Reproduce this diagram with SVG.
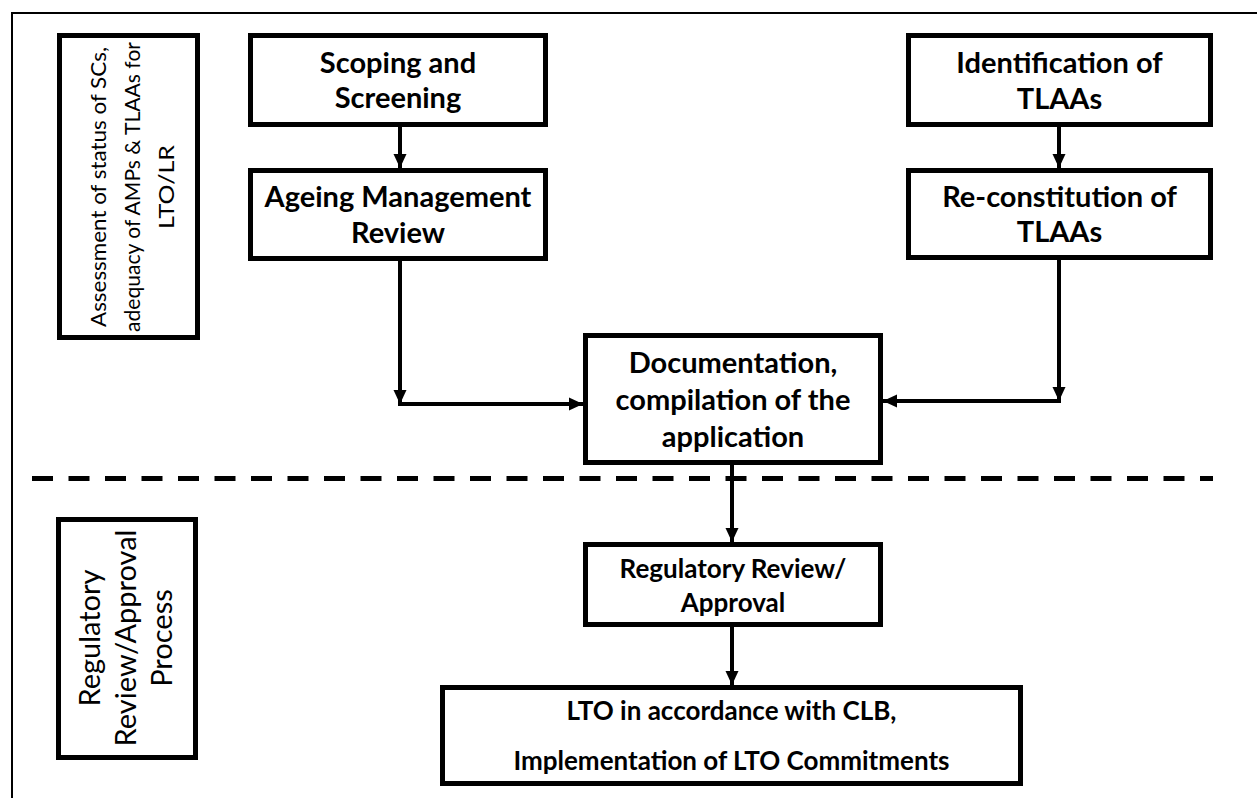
<svg xmlns="http://www.w3.org/2000/svg" width="1257" height="798" viewBox="0 0 1257 798">
<style>
.box{fill:#fff;stroke:#000;stroke-width:5}
.lbl{fill:none;stroke:#000;stroke-width:5}
.t{font-family:Lato,"Liberation Sans",sans-serif;font-weight:bold;font-size:29px;fill:#000;text-anchor:middle}
.s{font-size:26px}
.v{font-family:Lato,"Liberation Sans",sans-serif;font-size:22px;fill:#000;text-anchor:middle}
.v2{font-size:29px}
.con{fill:none;stroke:#000;stroke-width:4}
</style>
<defs>
<marker id="ah" markerUnits="userSpaceOnUse" markerWidth="15" markerHeight="14" refX="14" refY="7" orient="auto" viewBox="0 0 15 14">
<path d="M0,0.5 L14,7 L0,13.5 z" fill="#000"/>
</marker>
</defs>
<rect width="1257" height="798" fill="#fff"/>
<g id="frame">
<line x1="11" y1="13" x2="1257" y2="13" stroke="#000" stroke-width="2"/>
<line x1="12" y1="12" x2="12" y2="798" stroke="#000" stroke-width="2"/>
</g>
<g id="divider">
<line x1="32" y1="478.5" x2="1213" y2="478.5" stroke="#000" stroke-width="5" stroke-dasharray="21 15.5"/>
</g>
<g id="phase1">
<rect class="lbl" x="59.5" y="35.5" width="138" height="302"/>
<g transform="translate(0,187) rotate(-90)">
<text class="v" x="0" y="106" textLength="280" lengthAdjust="spacingAndGlyphs">Assessment of status of SCs,</text>
<text class="v" x="0" y="140" textLength="290" lengthAdjust="spacingAndGlyphs">adequacy of AMPs &amp; TLAAs for</text>
<text class="v" x="0" y="174" textLength="84" lengthAdjust="spacingAndGlyphs">LTO/LR</text>
</g>
</g>
<g id="phase2">
<rect class="lbl" x="58.5" y="519.5" width="137" height="238"/>
<g transform="translate(0,638) rotate(-90)">
<text class="v v2" x="0" y="100">Regulatory</text>
<text class="v v2" x="0" y="136">Review/Approval</text>
<text class="v v2" x="0" y="172">Process</text>
</g>
</g>
<g id="scoping">
<rect class="box" x="250.5" y="35.5" width="295" height="89"/>
<text class="t" x="398" y="73">Scoping and</text>
<text class="t" x="398" y="108">Screening</text>
</g>
<g id="ageing">
<rect class="box" x="250.5" y="170.5" width="295" height="88"/>
<text class="t" x="398" y="207">Ageing Management</text>
<text class="t" x="398" y="243">Review</text>
</g>
<g id="identification">
<rect class="box" x="908.5" y="35.5" width="302" height="89"/>
<text class="t" x="1059.5" y="73">Identification of</text>
<text class="t" x="1059.5" y="109">TLAAs</text>
</g>
<g id="reconstitution">
<rect class="box" x="908.5" y="170.5" width="302" height="87"/>
<text class="t" x="1059.5" y="207">Re-constitution of</text>
<text class="t" x="1059.5" y="242">TLAAs</text>
</g>
<g id="documentation">
<rect class="box" x="585.5" y="335.5" width="295" height="127"/>
<text class="t" x="733" y="373">Documentation,</text>
<text class="t" x="733" y="410">compilation of the</text>
<text class="t" x="733" y="447">application</text>
</g>
<g id="regulatory">
<rect class="box" x="585.5" y="544.5" width="295" height="80"/>
<text class="t s" x="733" y="578">Regulatory Review/</text>
<text class="t s" x="733" y="612">Approval</text>
</g>
<g id="lto">
<rect class="box" x="442.5" y="687.5" width="578" height="96"/>
<text class="t s" x="731.5" y="720">LTO in accordance with CLB,</text>
<text class="t s" x="731.5" y="770">Implementation of LTO Commitments</text>
</g>
<g id="connectors">
<line class="con" x1="400" y1="127" x2="400" y2="168" marker-end="url(#ah)"/>
<line class="con" x1="1059" y1="127" x2="1059" y2="168" marker-end="url(#ah)"/>
<line class="con" x1="400" y1="261" x2="400" y2="404" marker-end="url(#ah)"/>
<line class="con" x1="398" y1="404" x2="583" y2="404" marker-end="url(#ah)"/>
<line class="con" x1="1059" y1="260" x2="1059" y2="401" marker-end="url(#ah)"/>
<line class="con" x1="1061" y1="401" x2="883" y2="401" marker-end="url(#ah)"/>
<line class="con" x1="732" y1="465" x2="732" y2="542" marker-end="url(#ah)"/>
<line class="con" x1="732" y1="627" x2="732" y2="685" marker-end="url(#ah)"/>
</g>
</svg>
